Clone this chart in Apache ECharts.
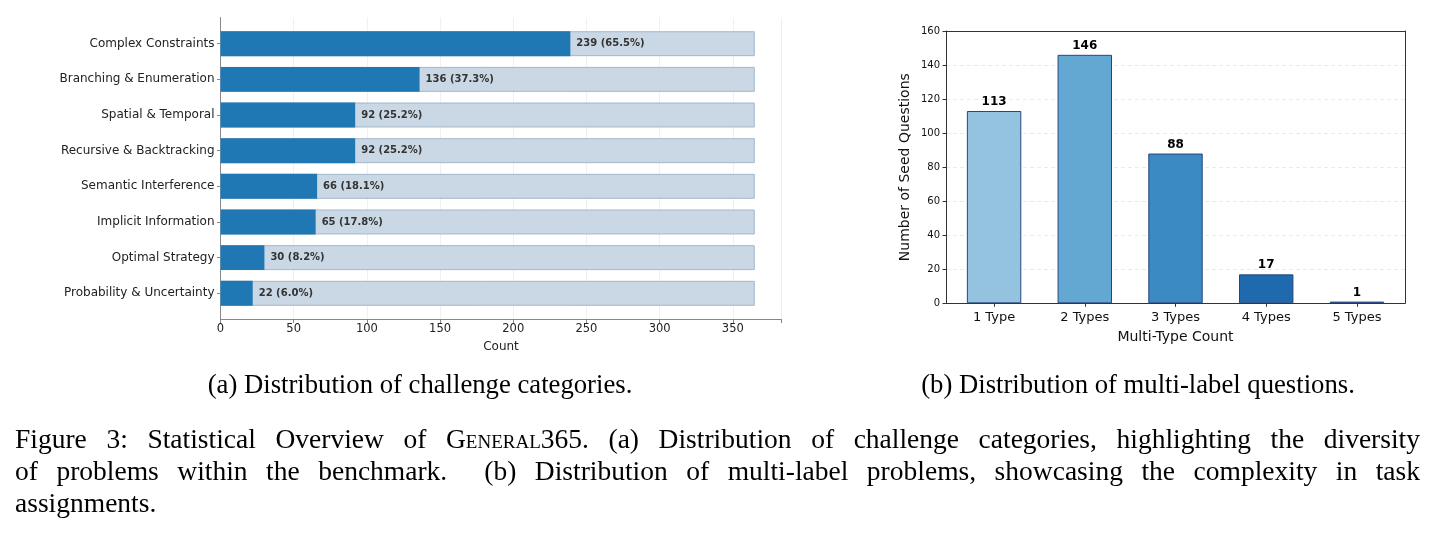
<!DOCTYPE html>
<html>
<head>
<meta charset="utf-8">
<script src="https://cdn.jsdelivr.net/npm/echarts@6/dist/echarts.min.js"></script>
<style>
  html, body { margin: 0; padding: 0; background: #fff; }
  #chart { position: absolute; left: 0; top: 0; width: 1436px; height: 536px; }
  .cap { position: absolute; font-family: 'Liberation Serif', 'Times New Roman', serif; color: #000; white-space: nowrap; }
  .sub { font-size: 26.7px; top: 369px; transform: translateX(-50%); }
  .line { left: 15px; width: 1405px; font-size: 27.5px; text-align: justify; text-align-last: justify; }
  .line.last { text-align-last: left; }
  .sc { font-variant: small-caps; }
</style>
</head>
<body>
<div id="chart"></div>
<div class="cap sub" style="left:420px">(a) Distribution of challenge categories.</div>
<div class="cap sub" style="left:1138px">(b) Distribution of multi-label questions.</div>
<div class="cap line" style="top:423px">Figure 3: Statistical Overview of <span class="sc">General</span>365. (a) Distribution of challenge categories, highlighting the diversity</div>
<div class="cap line" style="top:455px">of problems within the benchmark.&nbsp; (b) Distribution of multi-label problems, showcasing the complexity in task</div>
<div class="cap line last" style="top:487px">assignments.</div>

<script>
  // (a) challenge categories, top to bottom
  const categories = [
    'Complex Constraints',
    'Branching & Enumeration',
    'Spatial & Temporal',
    'Recursive & Backtracking',
    'Semantic Interference',
    'Implicit Information',
    'Optimal Strategy',
    'Probability & Uncertainty'
  ]
  const categoryCounts = [239, 136, 92, 92, 66, 65, 30, 22]
  const totalQuestions = 365
  const countTicks = [0, 50, 100, 150, 200, 250, 300, 350]

  // (b) multi-label questions
  const typeLabels = ['1 Type', '2 Types', '3 Types', '4 Types', '5 Types']
  const typeCounts = [113, 146, 88, 17, 1]
  const typeColors = ['#93c3de', '#62a8d3', '#3b8ac4', '#1f69af', '#1a56a0']

  const font = 'DejaVu Sans'
  const chart = echarts.init(document.getElementById('chart'))

  // left panel geometry (matplotlib-like margins around the bars)
  const L = { left: 220.5, top: 17.5, width: 561, height: 302 }
  const band = L.height / 8.47
  const pad = (L.height - band * 8) / 2
  // right panel geometry
  const R = { left: 946, top: 31, width: 459, height: 272.3 }
  const colW = R.width / 5.06
  const padR = (R.width - colW * 5) / 2

  const hidden = { axisLine: { show: false }, axisTick: { show: false }, axisLabel: { show: false }, splitLine: { show: false } }
  const spine = { axisLine: { show: true, onZero: false, lineStyle: { color: '#333' } } }

  chart.setOption({
    animation: false,
    textStyle: { fontFamily: font },
    grid: [
      // 0: left frame (axis lines, ticks, gridlines)
      { left: L.left, top: L.top, width: L.width, height: L.height },
      // 1: left bars
      { left: L.left, top: L.top + pad, width: L.width, height: L.height - pad * 2 },
      // 2: right frame
      { left: R.left, top: R.top, width: R.width, height: R.height },
      // 3: right bars
      { left: R.left + padR, top: R.top, width: R.width - padR * 2, height: R.height }
    ],
    xAxis: [
      {
        gridIndex: 0, type: 'value', min: 0, max: 383.25, interval: 50,
        name: 'Count', nameLocation: 'middle', nameGap: 13,
        nameTextStyle: { fontSize: 12, color: '#222' },
        axisLine: { lineStyle: { color: '#888', width: 1 } },
        axisTick: { show: true, length: 3.5, lineStyle: { color: '#888' } },
        axisLabel: {
          fontSize: 11.5, color: '#222', margin: 4,
          formatter: v => countTicks.indexOf(v) >= 0 ? String(v) : ''
        },
        splitLine: { show: true, lineStyle: { color: '#f0f0f0', width: 1 } }
      },
      Object.assign({ gridIndex: 1, type: 'value', min: 0, max: 383.25 }, hidden),
      Object.assign({
        gridIndex: 2, type: 'value', min: 0, max: 1,
        name: 'Multi-Type Count', nameLocation: 'middle', nameGap: 27,
        nameTextStyle: { fontSize: 14, color: '#111' }
      }, hidden, spine),
      Object.assign({ gridIndex: 2, type: 'value', min: 0, max: 1, position: 'top' }, hidden, spine),
      {
        gridIndex: 3, type: 'category', data: typeLabels,
        axisLine: { show: false },
        axisTick: { show: true, alignWithLabel: true, length: 3.5, lineStyle: { color: '#333' } },
        axisLabel: { fontSize: 13, color: '#111', margin: 8 }
      }
    ],
    yAxis: [
      Object.assign({ gridIndex: 0, type: 'value', min: 0, max: 1 }, hidden,
        { axisLine: { show: true, onZero: false, lineStyle: { color: '#888' } } }),
      {
        gridIndex: 1, type: 'category', data: categories, inverse: true,
        axisLine: { show: false },
        axisTick: { show: true, alignWithLabel: true, length: 3.5, lineStyle: { color: '#888' } },
        axisLabel: { fontSize: 12, color: '#222', margin: 6 }
      },
      {
        gridIndex: 2, type: 'value', min: 0, max: 160, interval: 20,
        name: 'Number of Seed Questions', nameLocation: 'middle', nameGap: 34,
        nameTextStyle: { fontSize: 14, color: '#111' },
        axisLine: { onZero: false, lineStyle: { color: '#333' } },
        axisTick: { show: true, length: 3.5, lineStyle: { color: '#333' } },
        axisLabel: { fontSize: 10, color: '#111', margin: 6 },
        splitLine: { show: true, lineStyle: { color: '#e4e4e4', type: [4, 3], width: 0.8 } }
      },
      Object.assign({ gridIndex: 2, type: 'value', min: 0, max: 160, position: 'right' }, hidden, spine),
      Object.assign({ gridIndex: 3, type: 'value', min: 0, max: 160 }, hidden)
    ],
    series: [
      {
        // full-length background bars (total questions)
        type: 'bar', xAxisIndex: 1, yAxisIndex: 1,
        data: categories.map(() => totalQuestions),
        barWidth: '70%', barGap: '-100%',
        itemStyle: { color: '#cad7e4', borderColor: '#a2b7cc', borderWidth: 1 },
        silent: true
      },
      {
        type: 'bar', xAxisIndex: 1, yAxisIndex: 1,
        data: categoryCounts,
        barWidth: '70%', barGap: '-100%',
        itemStyle: { color: '#1f77b4' },
        label: {
          show: true, position: 'right', distance: 6,
          fontSize: 10, fontWeight: 'bold', color: '#333',
          formatter: p => p.value + ' (' + (p.value / totalQuestions * 100).toFixed(1) + '%)'
        }
      },
      {
        type: 'bar', xAxisIndex: 4, yAxisIndex: 4,
        data: typeCounts.map((v, i) => ({ value: v, itemStyle: { color: typeColors[i] } })),
        barWidth: '60%',
        itemStyle: { borderColor: '#27477c', borderWidth: 1 },
        label: {
          show: true, position: 'top', distance: 3,
          fontSize: 12, fontWeight: 'bold', color: '#000'
        }
      }
    ]
  })
</script>
</body>
</html>
